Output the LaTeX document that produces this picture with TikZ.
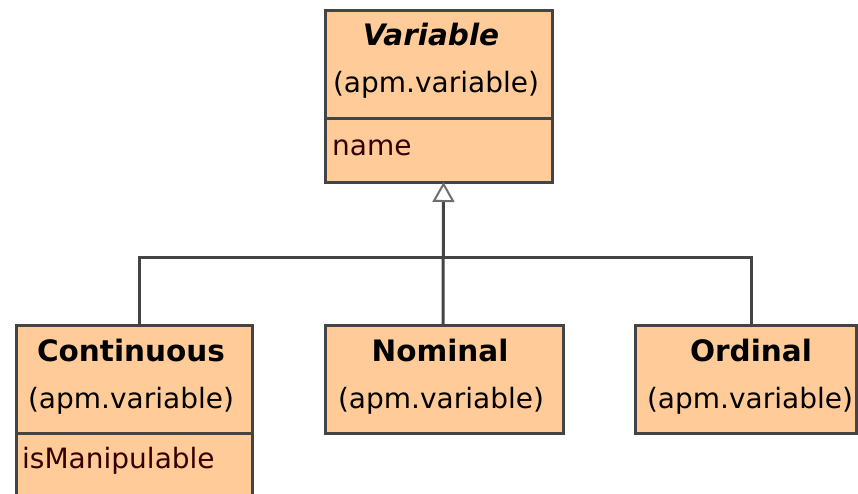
\documentclass[tikz,border=0pt]{standalone}
\usepackage{fontspec}
\setmainfont{DejaVu Sans}
\usetikzlibrary{arrows.meta}
\definecolor{classfill}{RGB}{255,204,153}
\definecolor{edgegray}{RGB}{68,68,68}
\definecolor{tipgray}{RGB}{110,110,110}
\definecolor{attrcol}{RGB}{51,0,0}
\tikzset{
  classbox/.style={draw=edgegray, fill=classfill, line width=3pt, anchor=north west,
                   inner sep=0pt, outer sep=0pt},
  classtitle/.style={font=\fontsize{29.5}{32}\selectfont\bfseries, anchor=base, inner sep=0pt},
  pkgname/.style={font=\fontsize{28}{30}\selectfont, anchor=base, inner sep=0pt},
  attrib/.style={font=\fontsize{28}{30}\selectfont, text=attrcol, anchor=base west, inner sep=0pt},
  link/.style={draw=edgegray, line width=3pt},
}
\begin{document}
\begin{tikzpicture}[x=1pt,y=-1pt]
\useasboundingbox (0,0) rectangle (858,493);
\clip (0,0) rectangle (858,493);
\fill[white] (0,0) rectangle (858,493);

% abstract superclass
\node[classbox, minimum width=227pt, minimum height=172pt] (var) at (325,10) {};
\draw[link] (var.west |- 0,118) -- (var.east |- 0,118);
\node[classtitle, font=\fontsize{29.5}{32}\selectfont\bfseries\itshape] (varT) at (431,45) {Variable};
\node[pkgname] (varP) at (436,92) {(apm.variable)};
\node[attrib] (varA) at (332,155) {name};

% subclasses
\node[classbox, minimum width=236pt, minimum height=200pt] (cont) at (16,325) {};
\draw[link] (cont.west |- 0,433) -- (cont.east |- 0,433);
\node[classtitle] (contT) at (131,361) {Continuous};
\node[pkgname] (contP) at (131,408) {(apm.variable)};
\node[attrib] (contA) at (22,468) {isManipulable};

\node[classbox, minimum width=238pt, minimum height=108pt] (nom) at (325,325) {};
\node[classtitle] (nomT) at (440,361) {Nominal};
\node[pkgname] (nomP) at (441,408) {(apm.variable)};

\node[classbox, minimum width=221.5pt, minimum height=108pt] (ord) at (635,325) {};
\node[classtitle] (ordT) at (751,361) {Ordinal};
\node[pkgname] (ordP) at (750,408) {(apm.variable)};

% generalization connectors
\coordinate (bus) at (443,257);
\draw[link] ([xshift=5pt]cont.north) |- (bus) -| ([xshift=6pt]ord.north);
\draw[link, -{Triangle[open, length=20pt, width=22pt, line width=2pt, color=tipgray]}]
  ([xshift=-1pt]nom.north) -- ([xshift=5pt]var.south);
\end{tikzpicture}
\end{document}
